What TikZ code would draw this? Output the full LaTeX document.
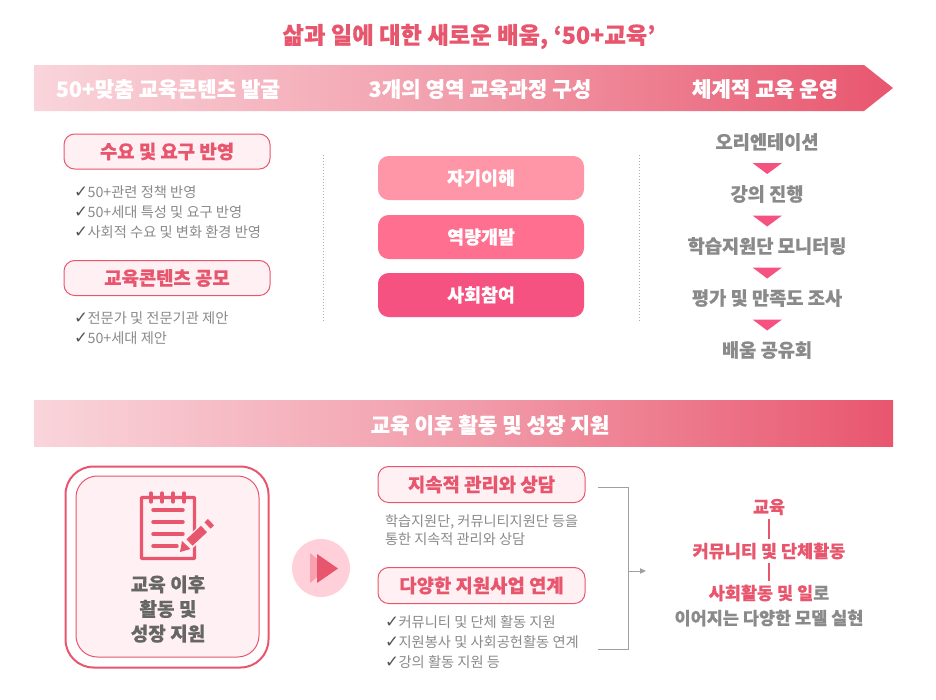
\documentclass[tikz,border=0pt]{standalone}
\usepackage{fontspec}
\setmainfont{Noto Sans CJK KR}[BoldFeatures={FakeBold=0.25}]
\newfontfamily\chkfont{DejaVu Sans}
\usetikzlibrary{arrows.meta}
\definecolor{rd}{HTML}{E8566E}
\definecolor{gr}{HTML}{8A8A8A}
\definecolor{gl}{HTML}{A0A0A0}
\definecolor{dg}{HTML}{555555}
\definecolor{lb}{HTML}{666666}
\definecolor{pk}{HTML}{FFF0F3}
\definecolor{ca}{HTML}{FF96A8}
\definecolor{cb}{HTML}{FF7090}
\definecolor{cc}{HTML}{F55282}
\definecolor{cd}{HTML}{FFD0DA}
\definecolor{ce}{HTML}{F8A0B0}
\newcommand{\ck}{\makebox[10.2pt][l]{\chkfont\color{dg}\fontsize{12.5}{12}\selectfont ✓}}
\newcommand{\dn}[1]{\raisebox{-1.1pt}{#1}}
\tikzset{
 T/.style={inner sep=0,outer sep=0,align=center},
 X/.style={T,yshift=-.75pt},
 head/.style={X,text=white,font=\bfseries\fontsize{15.9}{18}\selectfont},
 pill/.style={draw=rd,fill=pk,line width=.75pt,rounded corners=8pt,T,text=rd,font=\bfseries\fontsize{14.1}{16}\selectfont},
 box/.style={T,text=white,rounded corners=8pt,font=\bfseries\fontsize{13.8}{15}\selectfont},
 item/.style={X,anchor=west,text=gr,font=\fontsize{10.7}{12}\selectfont},
 flow/.style={T,text=gr,font=\bfseries\fontsize{14}{16}\selectfont},
 redt/.style={X,text=rd,font=\bfseries\fontsize{13.1}{15}\selectfont},
 dots/.style={gr!70,line width=.75pt,dash pattern=on .75pt off 1.5pt},
 brk/.style={gl,line width=.65pt}
}
\begin{document}
\begin{tikzpicture}[x=.75pt,y=-.75pt]
\useasboundingbox (0,0) rectangle (936,700);
\fill[white] (0,0) rectangle (936,700);
\node[X,text=rd,font=\bfseries\fontsize{17.5}{20}\selectfont] (title) at (469,35.5) {삶과 일에 대한 새로운 배움, ‘50+교육’};
\shade[left color=rd!25,right color=rd,middle color=rd!58] (34,65) -- (864,65) -- (893,88) -- (864,111) -- (34,111) -- cycle;
\node[head] (h1) at (168,88) {50+맞춤 교육콘텐츠 발굴};
\node[head] (h2) at (480,88) {3개의 영역 교육과정 구성};
\node[head] (h3) at (765,88) {체계적 교육 운영};
\node[pill,minimum width=206*.75pt,minimum height=35*.75pt] (p1) at (167,151.5) {\dn{수요 및 요구 반영}};
\node[item] (a1) at (74,191) {\ck 50+관련 정책 반영};
\node[item] (a2) at (74,211) {\ck 50+세대 특성 및 요구 반영};
\node[item] (a3) at (74,231) {\ck 사회적 수요 및 변화 환경 반영};
\node[pill,minimum width=206*.75pt,minimum height=35*.75pt] (p2) at (167,278) {\dn{교육콘텐츠 공모}};
\node[item] (b1) at (74,317) {\ck 전문가 및 전문기관 제안};
\node[item] (b2) at (74,337) {\ck 50+세대 제안};
\draw[dots] (323,155) -- (323,323);
\draw[dots] (639,155) -- (639,323);
\node[box,fill=ca,minimum width=206*.75pt,minimum height=44*.75pt] (c1) at (481,178) {\dn{자기이해}};
\node[box,fill=cb,minimum width=206*.75pt,minimum height=44*.75pt] (c2) at (481,237) {\dn{역량개발}};
\node[box,fill=cc,minimum width=206*.75pt,minimum height=44*.75pt] (c3) at (481,295) {\dn{사회참여}};
\node[flow] (f1) at (767,142) {오리엔테이션};
\node[flow] (f2) at (767,194) {강의 진행};
\node[flow] (f3) at (767,246) {학습지원단 모니터링};
\node[flow] (f4) at (767,298) {평가 및 만족도 조사};
\node[flow] (f5) at (767,350) {배움 공유회};
\foreach \y in {163,215.5,267.5,319.5}
  \fill[cc] (752.5,\y) -- (782,\y) -- (767.2,\y+11) -- cycle;
\shade[left color=rd!25,right color=rd,middle color=rd!58] (34,400) rectangle (893,446);
\node[head] (h4) at (490,424) {교육 이후 활동 및 성장 지원};
% left panel
\node[draw=rd,line width=1.5pt,fill=white,rounded corners=21pt,minimum width=203*.75pt,minimum height=201*.75pt,T] (o) at (167,567) {};
\node[draw=rd,line width=.75pt,fill=pk,rounded corners=16pt,minimum width=183*.75pt,minimum height=181*.75pt,T] (i) at (167.5,566.5) {};
\draw[rd,line width=2.5pt,rounded corners=.6pt] (141.5,497.5) rectangle (194.5,558.5);
\foreach \x in {151,162,173,184} \draw[rd,line width=2.5pt,line cap=round] (\x,493) -- (\x,502);
\foreach \y in {510,522,534} \draw[rd,line width=2.6pt,line cap=round] (153,\y) -- (183,\y);
\draw[rd,line width=2.6pt,line cap=round] (153,546) -- (177,546);
\draw[pk,line width=9pt] (184,548) -- (212,522);
\draw[rd,line width=6.6pt] (189.5,542.5) -- (204,529);
\draw[rd,line width=6.6pt] (207.5,525.5) -- (211,522.2);
\fill[rd] (180,552) -- (182,541) -- (190.5,549) -- cycle;
\node[X,text=lb,font=\bfseries\fontsize{14.3}{18.5}\selectfont] (lbl) at (168,608) {교육 이후\\활동 및\\성장 지원};
\node[circle,fill=cd,minimum size=58*.75pt,T] (ci) at (321,568) {};
\fill[ce] (310,553) -- (328,568) -- (310,583) -- cycle;
\fill[rd] (317,554) -- (338,568.5) -- (317,583) -- cycle;
\node[pill,minimum width=207*.75pt,minimum height=36*.75pt] (p3) at (481.5,484.5) {\dn{지속적 관리와 상담}};
\node[X,anchor=north west,align=left,text=gr,font=\fontsize{10.65}{13.4}\selectfont] (d) at (385,514) {학습지원단, 커뮤니티지원단 등을\\통한 지속적 관리와 상담};
\node[pill,minimum width=207*.75pt,minimum height=36*.75pt] (p4) at (481.5,585.5) {\dn{다양한 지원사업 연계}};
\node[item] (e1) at (385,621) {\ck 커뮤니티 및 단체 활동 지원};
\node[item] (e2) at (385,641) {\ck 지원봉사 및 사회공헌활동 연계};
\node[item] (e3) at (385,661) {\ck 강의 활동 지원 등};
\coordinate (bt) at (598,487);
\coordinate (bb) at (598,649);
\coordinate (be) at (646,571);
\draw[brk] (bt) -- (628,487) -- (628,649) -- (bb);
\draw[brk,-{Triangle[length=4.5pt,width=4pt]}] (628,571) -- (be);
\node[redt] (r1) at (769,506) {교육};
\node[redt] (r2) at (769,550) {커뮤니티 및 단체활동};
\node[redt] (r3) at (769,592) {사회활동 및 일\textcolor{gr}{로}};
\node[X,text=gr,font=\bfseries\fontsize{13.1}{15}\selectfont] (r4) at (769,617) {이어지는 다양한 모델 실현};
\draw[rd,line width=1.5pt,shorten >=3pt,shorten <=3pt] (r1.south) -- (r2.north);
\draw[rd,line width=1.5pt,shorten >=3pt,shorten <=3pt] (r2.south) -- (r3.north);
\end{tikzpicture}
\end{document}
